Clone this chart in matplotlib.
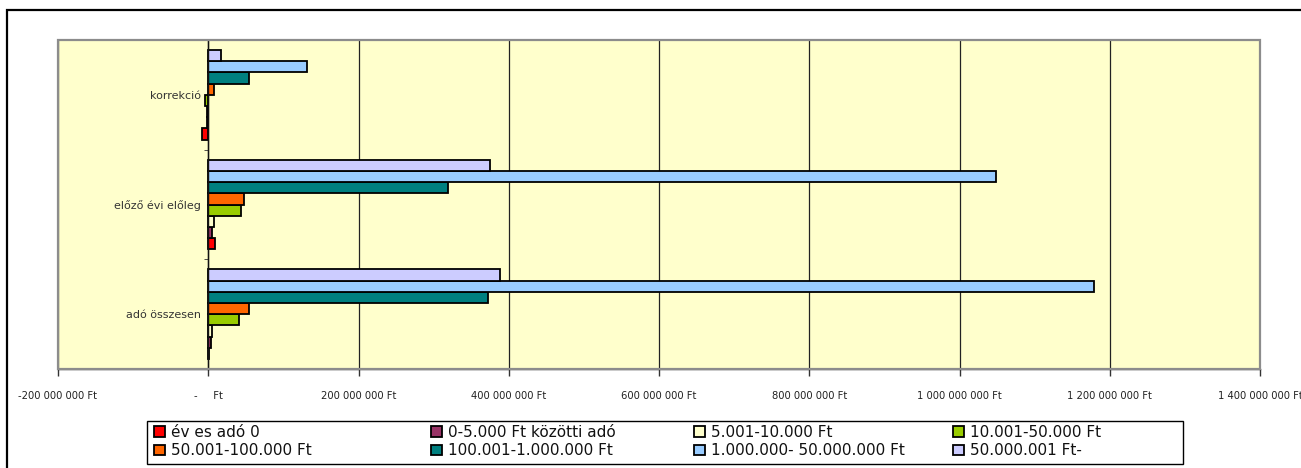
import matplotlib
matplotlib.use("Agg")
import matplotlib.pyplot as plt
import matplotlib.patches as mpatches
import numpy as np

categories = ['adó összesen', 'előző évi előleg', 'korrekció']
series_names = ['év es adó 0', '0-5.000 Ft közötti adó', '5.001-10.000 Ft', '10.001-50.000 Ft',
                '50.001-100.000 Ft', '100.001-1.000.000 Ft', '1.000.000- 50.000.000 Ft', '50.000.001 Ft-']
# values in Ft, one list per series (order follows categories)
s_ev0 = [0.5e6, 9e6, -8e6]
s_0_5 = [3e6, 4.5e6, -1e6]
s_5_10 = [4.5e6, 7e6, -1e6]
s_10_50 = [41e6, 43e6, -4e6]
s_50_100 = [54e6, 47e6, 7e6]
s_100_1m = [372e6, 319e6, 54e6]
s_1m_50m = [1179e6, 1049e6, 131e6]
s_50m = [388e6, 375e6, 17e6]
series_values = [s_ev0, s_0_5, s_5_10, s_10_50, s_50_100, s_100_1m, s_1m_50m, s_50m]
colors = ['#FF0000', '#993366', '#FFFFCC', '#99CC00', '#FF6600', '#008080', '#99CCFF', '#CCCCFF']

x_ticks = [-200e6, 0, 200e6, 400e6, 600e6, 800e6, 1000e6, 1200e6, 1400e6]
x_ticklabels = ['-200 000 000 Ft', '-     Ft', '200 000 000 Ft', '400 000 000 Ft', '600 000 000 Ft',
                '800 000 000 Ft', '1 000 000 000 Ft', '1 200 000 000 Ft', '1 400 000 000 Ft']

W, H = 1301, 468
fig = plt.figure(figsize=(W / 100, H / 100), dpi=100)
fig.patch.set_facecolor('white')

# outer chart border
fig.add_artist(mpatches.Rectangle((7 / W, -0.1), 1.2, (H - 10) / H + 0.1, transform=fig.transFigure,
                                  fill=False, edgecolor='black', linewidth=1.6))

ax = fig.add_axes([58 / W, (H - 369) / H, (1260 - 58) / W, (369 - 40) / H])
ax.set_facecolor('#FFFFCC')

n = len(series_values)
bh = 0.102
y = np.arange(len(categories))
handles = []
for i, (vals, c, name) in enumerate(zip(series_values, colors, series_names)):
    off = (i - (n - 1) / 2) * bh
    b = ax.barh(y + off, vals, height=bh, color=c, edgecolor='black', linewidth=1.3, label=name, zorder=3)
    handles.append(b)

ax.set_xlim(-200e6, 1400e6)
ax.set_ylim(-0.5, 2.5)
ax.set_xticks(x_ticks)
ax.set_xticklabels(x_ticklabels, fontsize=7.2, color='#222222')
ax.tick_params(axis='x', length=5, width=1, pad=11, color='#333333')
ax.xaxis.grid(True, color='#222222', linewidth=0.9, zorder=1)

# y axis at x = 0
for s in ['top', 'right']:
    ax.spines[s].set_visible(False)
ax.spines['left'].set_position(('data', 0))
ax.spines['left'].set_color('#111111')
ax.spines['left'].set_linewidth(1.0)
ax.spines['left'].set_zorder(4)
ax.spines['bottom'].set_color('#222222')
ax.spines['bottom'].set_linewidth(1.0)
ax.set_yticks(y)
ax.set_yticklabels(categories, fontsize=8, color='#333333')
ax.tick_params(axis='y', length=0, pad=5)
ax.set_yticks([0.5, 1.5], minor=True)
ax.tick_params(axis='y', which='minor', length=3, direction='out', color='#333333')

# plot area border (gray)
ax.add_patch(mpatches.Rectangle((0, 0), 1, 1, transform=ax.transAxes, fill=False,
                                edgecolor='#8C8C8C', linewidth=1.6, zorder=5, clip_on=False))

# legend frame
fig.add_artist(mpatches.Rectangle((147 / W, (H - 464) / H), (1183 - 147) / W, (464 - 421) / H,
                                  transform=fig.transFigure, fill=False, edgecolor='black', linewidth=1.0))
# legend: 4 columns, 2 rows, row-major order
col_x = [154, 431, 694, 953]
for c in range(4):
    idx = [c, c + 4]
    lg = fig.legend([handles[i] for i in idx], [series_names[i] for i in idx], ncol=1,
                    loc='upper left', bbox_to_anchor=(col_x[c] / W, (H - 425) / H),
                    fontsize=11, frameon=False, handlelength=0.7, handleheight=0.7,
                    handletextpad=0.4, borderpad=0.0, labelspacing=0.22, borderaxespad=0,
                    labelcolor='#111111')

fig.savefig('out.png', dpi=100)
